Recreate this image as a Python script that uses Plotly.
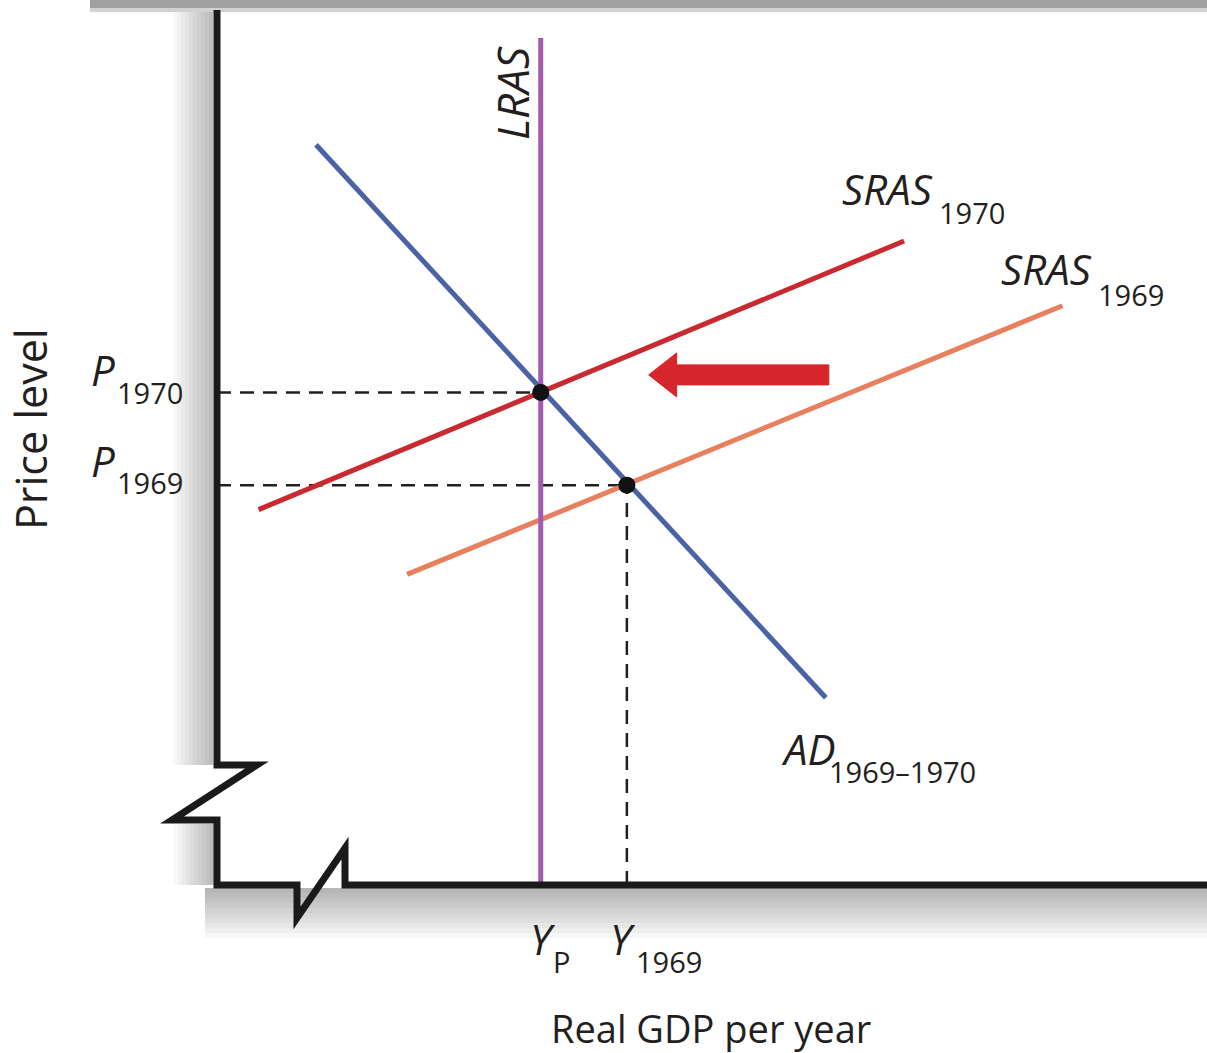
import plotly.graph_objects as go

# ---------------- data (economic units, 0-100 scale) ----------------
y_potential = 32.7      # Y_P (LRAS)
y_1969 = 41.4           # Y_1969
p_1970 = 56.3           # P_1970
p_1969 = 45.7           # P_1969

lras_x = [y_potential, y_potential]
lras_y = [0.0, 96.8]

ad_x = [10.0, 61.5]
ad_y = [84.6, 21.4]

sras1970_x = [4.2, 69.4]
sras1970_y = [42.9, 73.6]

sras1969_x = [19.2, 85.4]
sras1969_y = [35.5, 66.2]

eq_x = [y_potential, y_1969]
eq_y = [p_1970, p_1969]

arrow_tail_x = 61.8
arrow_tip_x = 43.6
arrow_y = 58.3

# ---------------- layout geometry ----------------
W, H = 1207, 1053
ML, MR, MT, MB = 217, 0, 10, 168
PW, PH = W - ML - MR, H - MT - MB
X_RANGE = [0, 100]
Y_RANGE = [0, 100]
px_per_x = PW / (X_RANGE[1] - X_RANGE[0])
px_per_y = PH / (Y_RANGE[1] - Y_RANGE[0])

FONT = "Open Sans"
TXT = "#231f20"


def px2paper(px, py):
    return (px - ML) / PW, (H - MB - py) / PH


fig = go.Figure()

# arrow polygon built from tail/tip data and pixel sizes
shaft_half = 10 / px_per_y
head_half = 22 / px_per_y
head_len = 28 / px_per_x
hb = arrow_tip_x + head_len
arrow_px = [arrow_tail_x, hb, hb, arrow_tip_x, hb, hb, arrow_tail_x, arrow_tail_x]
arrow_py = [arrow_y + shaft_half, arrow_y + shaft_half, arrow_y + head_half, arrow_y,
            arrow_y - head_half, arrow_y - shaft_half, arrow_y - shaft_half, arrow_y + shaft_half]

# dashed guide lines
dash = dict(color="#231f20", width=2.5, dash="14px,9px")
fig.add_trace(go.Scatter(x=[0, eq_x[0]], y=[eq_y[0], eq_y[0]], mode="lines", line=dash))
fig.add_trace(go.Scatter(x=[0, eq_x[1]], y=[eq_y[1], eq_y[1]], mode="lines", line=dash))
fig.add_trace(go.Scatter(x=[eq_x[1], eq_x[1]], y=[0, eq_y[1]], mode="lines", line=dash))

fig.add_trace(go.Scatter(x=sras1969_x, y=sras1969_y, mode="lines",
                         line=dict(color="#e8805f", width=5)))
fig.add_trace(go.Scatter(x=lras_x, y=lras_y, mode="lines",
                         line=dict(color="#a15aad", width=5)))
fig.add_trace(go.Scatter(x=ad_x, y=ad_y, mode="lines",
                         line=dict(color="#4b62a5", width=5)))
fig.add_trace(go.Scatter(x=sras1970_x, y=sras1970_y, mode="lines",
                         line=dict(color="#c92a2f", width=5)))
fig.add_trace(go.Scatter(x=arrow_px, y=arrow_py, mode="lines", fill="toself",
                         fillcolor="#d6252b", line=dict(color="#d6252b", width=1)))
fig.add_trace(go.Scatter(x=eq_x, y=eq_y, mode="markers",
                         marker=dict(color="#111111", size=17)))

# ---------------- frame (broken axes) and shadows ----------------
shapes = []
for k in range(1, 11):
    x0, y0 = px2paper(213 - 4 * k, 12)
    x1, y1 = px2paper(213, 765)
    shapes.append(dict(type="rect", xref="paper", yref="paper", x0=x0, x1=x1, y0=y0, y1=y1,
                       fillcolor="rgba(0,0,0,0.026)", line=dict(width=0), layer="below"))
    x0, y0 = px2paper(214 - 4 * k, 824)
    x1, y1 = px2paper(214, 885)
    shapes.append(dict(type="rect", xref="paper", yref="paper", x0=x0, x1=x1, y0=y0, y1=y1,
                       fillcolor="rgba(0,0,0,0.026)", line=dict(width=0), layer="below"))
    x0, y0 = px2paper(205, 888)
    x1, y1 = px2paper(W + 5, 888 + 5 * k)
    shapes.append(dict(type="rect", xref="paper", yref="paper", x0=x0, x1=x1, y0=y0, y1=y1,
                       fillcolor="rgba(0,0,0,0.032)", line=dict(width=0), layer="below"))
# top band
x0, y0 = px2paper(90, 0)
x1, y1 = px2paper(W + 5, 9)
shapes.append(dict(type="rect", xref="paper", yref="paper", x0=x0, x1=x1, y0=y0, y1=y1,
                   fillcolor="#a0a0a0", line=dict(width=0), layer="below"))
x0, y0 = px2paper(90, 8)
x1, y1 = px2paper(W + 5, 12)
shapes.append(dict(type="rect", xref="paper", yref="paper", x0=x0, x1=x1, y0=y0, y1=y1,
                   fillcolor="#d2d2d2", line=dict(width=0), layer="below"))

frame_pts = [(217, 10), (217, 765), (257, 765), (172, 820), (217, 820), (217, 885),
             (297, 885), (297, 918), (345, 848), (345, 885), (W + 10, 885)]
path = ""
for i, (a, b) in enumerate(frame_pts):
    xp, yp = px2paper(a, b)
    path += ("M" if i == 0 else "L") + f"{xp:.5f},{yp:.5f} "
shapes.append(dict(type="path", xref="paper", yref="paper", path=path,
                   line=dict(color="#1a1a1a", width=7), layer="above"))

# ---------------- labels ----------------
annotations = []


def label(text, left_px, baseline_px, size, italic=False, anchor="left"):
    cy = baseline_px - 0.388 * size
    xp, yp = px2paper(left_px - 3, cy)
    t = f"<i>{text}</i>" if italic else text
    annotations.append(dict(text=t, x=xp, y=yp, xref="paper", yref="paper",
                            xanchor=anchor, yanchor="middle", showarrow=False,
                            font=dict(family=FONT, size=size, color=TXT)))


MAIN, SUB = 42, 29
# price labels
label("P", 92, 386, MAIN, True)
label("1970", 118, 404, SUB)
label("P", 92, 477, MAIN, True)
label("1969", 118, 494, SUB)
# quantity labels
label("Y", 531, 955, MAIN, True)
label("P", 554, 973, SUB)
label("Y", 611, 955, MAIN, True)
label("1969", 637, 973, SUB)
# curve labels
label("SRAS", 843, 205, MAIN, True)
label("1970", 940, 224, SUB)
label("SRAS", 1002, 285, MAIN, True)
label("1969", 1099, 306, SUB)
label("AD", 782, 765, MAIN, True)
label("1969\u20131970", 830, 783, SUB)

# rotated labels
xp, yp = px2paper(512, 93)
annotations.append(dict(text="<i>LRAS</i>", x=xp, y=yp, xref="paper", yref="paper",
                        textangle=-90, xanchor="center", yanchor="middle", showarrow=False,
                        font=dict(family=FONT, size=44, color=TXT)))
xp, yp = px2paper(30, 429)
annotations.append(dict(text="Price level", x=xp, y=yp, xref="paper", yref="paper",
                        textangle=-90, xanchor="center", yanchor="middle", showarrow=False,
                        font=dict(family=FONT, size=43, color=TXT)))
xp, yp = px2paper(711, 1043 - 0.388 * 38)
annotations.append(dict(text="Real GDP per year", x=xp, y=yp, xref="paper", yref="paper",
                        xanchor="center", yanchor="middle", showarrow=False,
                        font=dict(family=FONT, size=38, color=TXT)))

fig.update_layout(
    width=W, height=H, autosize=False,
    margin=dict(l=ML, r=MR, t=MT, b=MB, pad=0),
    paper_bgcolor="white", plot_bgcolor="white",
    showlegend=False,
    xaxis=dict(range=X_RANGE, visible=False, fixedrange=True),
    yaxis=dict(range=Y_RANGE, visible=False, fixedrange=True),
    shapes=shapes, annotations=annotations,
)

fig.write_html("out.html", config={"displayModeBar": False},
               post_script="document.body.style.margin='0';document.body.style.overflow='hidden';")
